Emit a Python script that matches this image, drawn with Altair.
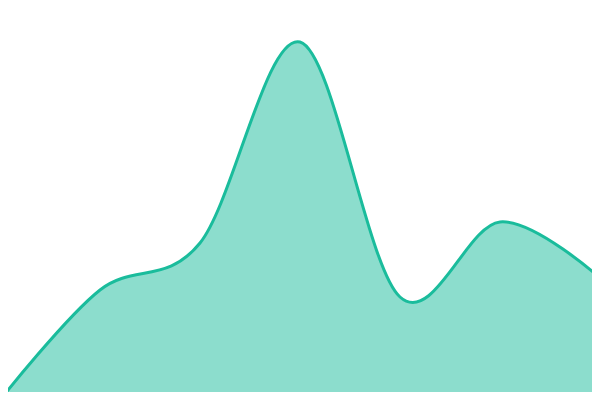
import altair as alt
import pandas as pd

xs = [0, 100, 200, 300, 400, 500, 600]
vals = [0, 110, 157, 358, 103, 178, 122]

df = pd.DataFrame({"x": xs, "v": vals})

base = alt.Chart(df).encode(
    x=alt.X("x:Q", scale=alt.Scale(domain=[0, 600], nice=False, zero=False), axis=None),
    y=alt.Y("v:Q", scale=alt.Scale(domain=[0, 400], nice=False), axis=None),
)

area = base.mark_area(interpolate="cardinal", color="#1abc9c", opacity=0.5)
line = base.mark_line(interpolate="cardinal", color="#1abc9c", strokeWidth=3)

chart = (area + line).properties(
    width=600, height=400,
    autosize=alt.AutoSizeParams(type="none"),
    padding={"left": -8, "top": -8, "right": -8, "bottom": -8},
).configure_view(stroke=None)

chart.save("out.html", embed_options={"renderer": "svg", "actions": False})
